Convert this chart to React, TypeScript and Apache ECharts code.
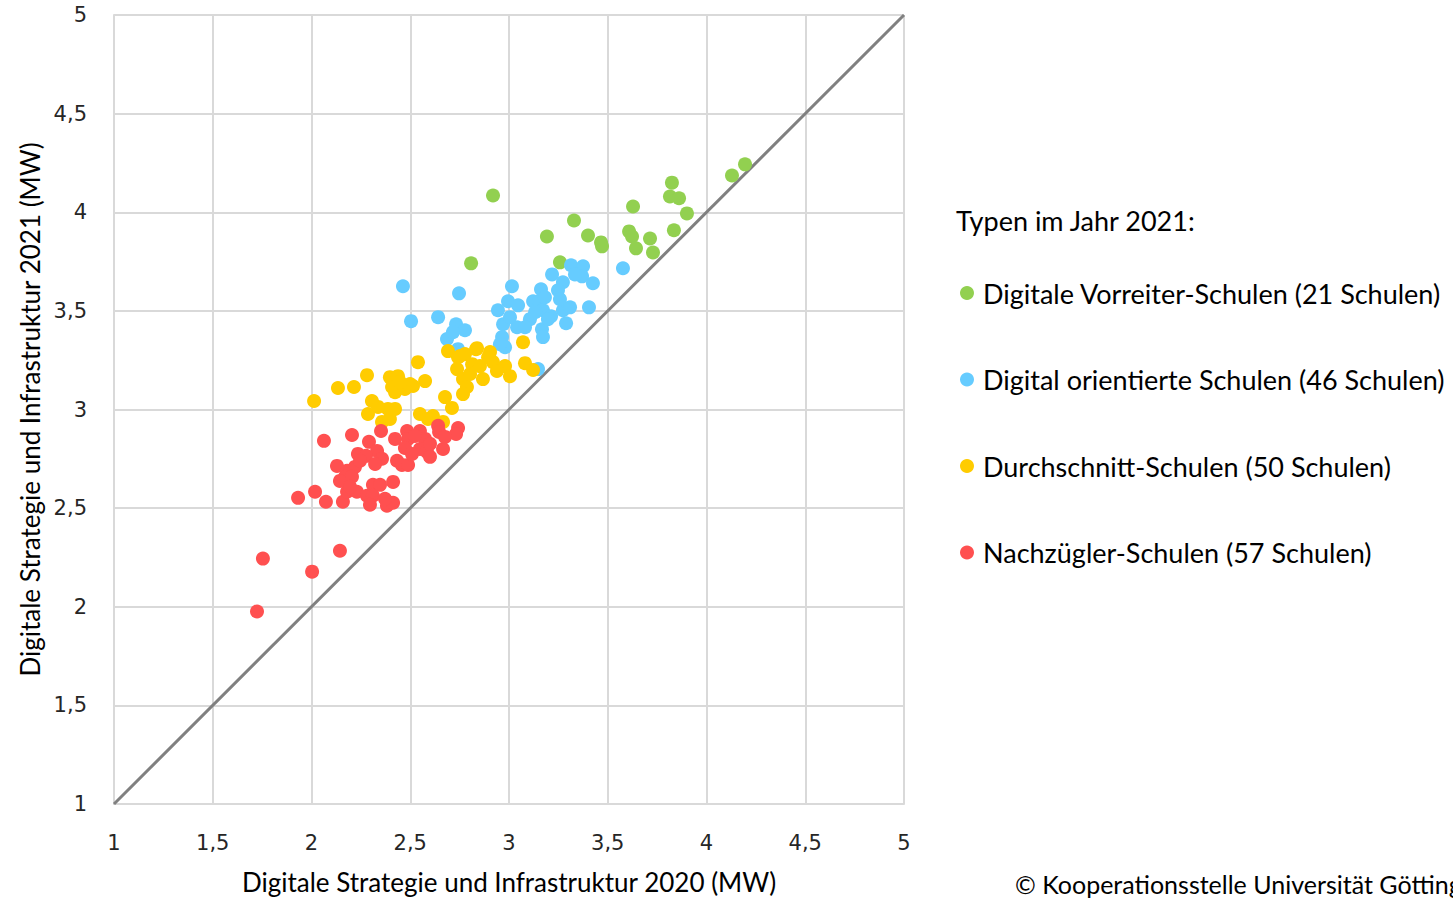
import React, { useEffect, useRef } from "react";
import * as echarts from "echarts";

const seriesNames = [
  "Digitale Vorreiter-Schulen (21 Schulen)",
  "Digital orientierte Schulen (46 Schulen)",
  "Durchschnitt-Schulen (50 Schulen)",
  "Nachzügler-Schulen (57 Schulen)",
];
const seriesColors = ["#92d050", "#66ccff", "#ffcc00", "#ff5050"];

const vorreiter: number[][] = [
  [2.919, 4.085], [2.808, 3.741], [3.329, 3.958], [3.192, 3.877], [3.4, 3.882],
  [3.466, 3.847], [3.471, 3.827], [3.258, 3.746], [3.628, 4.029], [3.608, 3.903],
  [3.623, 3.877], [3.643, 3.817], [3.714, 3.867], [3.729, 3.796], [3.825, 4.15],
  [3.815, 4.08], [3.861, 4.071], [3.901, 3.994], [3.835, 3.909], [4.129, 4.186],
  [4.195, 4.243],
];

const orientiert: number[][] = [
  [2.463, 3.625], [2.747, 3.589], [3.015, 3.625], [3.162, 3.609], [3.218, 3.685],
  [3.314, 3.731], [3.375, 3.726], [3.37, 3.675], [3.425, 3.64], [3.273, 3.645],
  [3.248, 3.604], [3.577, 3.716], [3.122, 3.549], [3.152, 3.549], [2.995, 3.549],
  [3.046, 3.528], [2.944, 3.503], [3.172, 3.503], [3.213, 3.473], [3.273, 3.503],
  [3.309, 3.518], [3.405, 3.518], [3.289, 3.437], [3.106, 3.458], [3.167, 3.407],
  [3.172, 3.367], [2.97, 3.432], [3.041, 3.417], [2.965, 3.367], [2.98, 3.316],
  [2.504, 3.448], [2.641, 3.468], [2.732, 3.432], [2.777, 3.402], [2.686, 3.357],
  [2.742, 3.306], [3.147, 3.205], [3.182, 3.569], [3.197, 3.458], [3.081, 3.417],
  [3.005, 3.468], [2.716, 3.392], [3.258, 3.559], [3.334, 3.685], [2.954, 3.331],
  [3.132, 3.493],
];

const durchschnitt: number[][] = [
  [2.013, 3.043], [2.134, 3.109], [2.215, 3.114], [2.281, 3.174], [2.397, 3.164],
  [2.438, 3.169], [2.408, 3.114], [2.423, 3.088], [2.473, 3.104], [2.514, 3.119],
  [2.575, 3.144], [2.539, 3.24], [2.306, 3.043], [2.286, 2.977], [2.387, 3.003],
  [2.423, 3.003], [2.357, 2.937], [2.397, 2.952], [2.549, 2.977], [2.615, 2.967],
  [2.676, 3.063], [2.711, 3.008], [2.666, 2.937], [2.691, 3.296], [2.742, 3.265],
  [2.777, 3.281], [2.838, 3.311], [2.904, 3.291], [2.737, 3.205], [2.813, 3.23],
  [2.853, 3.22], [2.868, 3.154], [2.919, 3.24], [2.98, 3.22], [3.005, 3.169],
  [2.767, 3.154], [2.787, 3.114], [2.767, 3.078], [3.071, 3.341], [3.081, 3.235],
  [3.122, 3.2], [2.939, 3.195], [2.752, 3.271], [2.833, 3.306], [2.499, 3.129],
  [2.448, 3.139], [2.337, 3.013], [2.59, 2.952], [2.803, 3.18], [2.894, 3.265],
];

const nachzuegler: number[][] = [
  [2.063, 2.841], [2.205, 2.871], [2.352, 2.891], [2.291, 2.836], [2.332, 2.79],
  [2.235, 2.775], [2.276, 2.765], [2.357, 2.75], [2.129, 2.714], [2.18, 2.689],
  [2.22, 2.709], [2.17, 2.659], [2.205, 2.659], [2.433, 2.74], [2.458, 2.719],
  [2.489, 2.719], [2.413, 2.633], [2.311, 2.618], [2.347, 2.618], [2.484, 2.891],
  [2.489, 2.851], [2.549, 2.891], [2.575, 2.851], [2.641, 2.917], [2.646, 2.886],
  [2.742, 2.906], [2.732, 2.876], [2.473, 2.805], [2.549, 2.8], [2.585, 2.785],
  [2.6, 2.76], [2.666, 2.8], [2.018, 2.583], [1.932, 2.552], [2.073, 2.532],
  [2.159, 2.532], [2.18, 2.583], [2.23, 2.583], [2.281, 2.563], [2.311, 2.563],
  [2.296, 2.517], [2.382, 2.512], [2.413, 2.527], [2.144, 2.284], [1.754, 2.244],
  [2.003, 2.178], [1.724, 1.976], [2.524, 2.866], [2.509, 2.775], [2.246, 2.74],
  [2.144, 2.638], [2.322, 2.724], [2.6, 2.826], [2.676, 2.861], [2.423, 2.851],
  [2.195, 2.608], [2.372, 2.547],
];

const diagonal: number[][] = [[1, 1], [5, 5]];

const xAxisTitle = "Digitale Strategie und Infrastruktur 2020 (MW)";
const yAxisTitle = "Digitale Strategie und Infrastruktur 2021 (MW)";
const legendTitle = "Typen im Jahr 2021:";
const copyright = "© Kooperationsstelle Universität Göttingen";

const fmt = (v: number) => String(v).replace(".", ",");

export default function App() {
  const ref = useRef<HTMLDivElement>(null);
  useEffect(() => {
    if (!ref.current) return;
    const chart = echarts.init(ref.current, null, { renderer: "svg" });
    const groups = [vorreiter, orientiert, durchschnitt, nachzuegler];
    const titleFont = "Lato, 'Open Sans', sans-serif";
    const tickFont = "'DejaVu Sans', sans-serif";
    chart.setOption({
      animation: false,
      backgroundColor: "#ffffff",
      grid: { left: 114, top: 15, right: 549, bottom: 94, containLabel: false },
      xAxis: {
        type: "value",
        min: 1,
        max: 5,
        interval: 0.5,
        name: xAxisTitle,
        nameLocation: "middle",
        nameGap: 65,
        nameTextStyle: { fontFamily: titleFont, fontSize: 26, color: "#000" },
        axisLine: { show: true, lineStyle: { color: "#d9d9d9", width: 2 } },
        axisTick: { show: false },
        splitLine: { show: true, lineStyle: { color: "#d9d9d9", width: 2 } },
        axisLabel: {
          formatter: fmt,
          fontFamily: tickFont,
          fontSize: 21,
          color: "#262626",
          margin: 28,
        },
      },
      yAxis: {
        type: "value",
        min: 1,
        max: 5,
        interval: 0.5,
        name: yAxisTitle,
        nameLocation: "middle",
        nameGap: 71,
        nameTextStyle: { fontFamily: titleFont, fontSize: 26, color: "#000" },
        axisLine: { show: true, lineStyle: { color: "#d9d9d9", width: 2 } },
        axisTick: { show: false },
        splitLine: { show: true, lineStyle: { color: "#d9d9d9", width: 2 } },
        axisLabel: {
          formatter: fmt,
          fontFamily: tickFont,
          fontSize: 21,
          color: "#262626",
          margin: 27,
        },
      },
      legend: {
        orient: "vertical",
        left: 955,
        top: 273,
        itemWidth: 14,
        itemHeight: 14,
        itemGap: 56.5,
        icon: "circle",
        data: seriesNames,
        textStyle: {
          fontFamily: titleFont,
          fontSize: 27,
          color: "#000",
          lineHeight: 30,
          padding: [0, 0, 0, 4],
        },
      },
      graphic: [
        {
          type: "text",
          x: 956,
          y: 220,
          style: {
            text: legendTitle,
            font: `27px ${titleFont}`,
            fill: "#000",
            textVerticalAlign: "middle",
          },
        },
        {
          type: "text",
          x: 1015,
          y: 884,
          style: {
            text: copyright,
            font: `25px ${titleFont}`,
            fill: "#000",
            textVerticalAlign: "middle",
          },
        },
      ],
      series: [
        {
          type: "line",
          data: diagonal,
          symbol: "none",
          silent: true,
          lineStyle: { color: "#808080", width: 3 },
          z: 1,
        },
        ...groups.map((g, i) => ({
          name: seriesNames[i],
          type: "scatter",
          data: g,
          symbol: "circle",
          symbolSize: 14,
          itemStyle: { color: seriesColors[i], opacity: 1 },
          z: 2 + i,
        })),
      ],
    });
    return () => chart.dispose();
  }, []);
  return (
    <div
      ref={ref}
      style={{ position: "fixed", left: 0, top: 0, width: 1453, height: 900 }}
    />
  );
}
